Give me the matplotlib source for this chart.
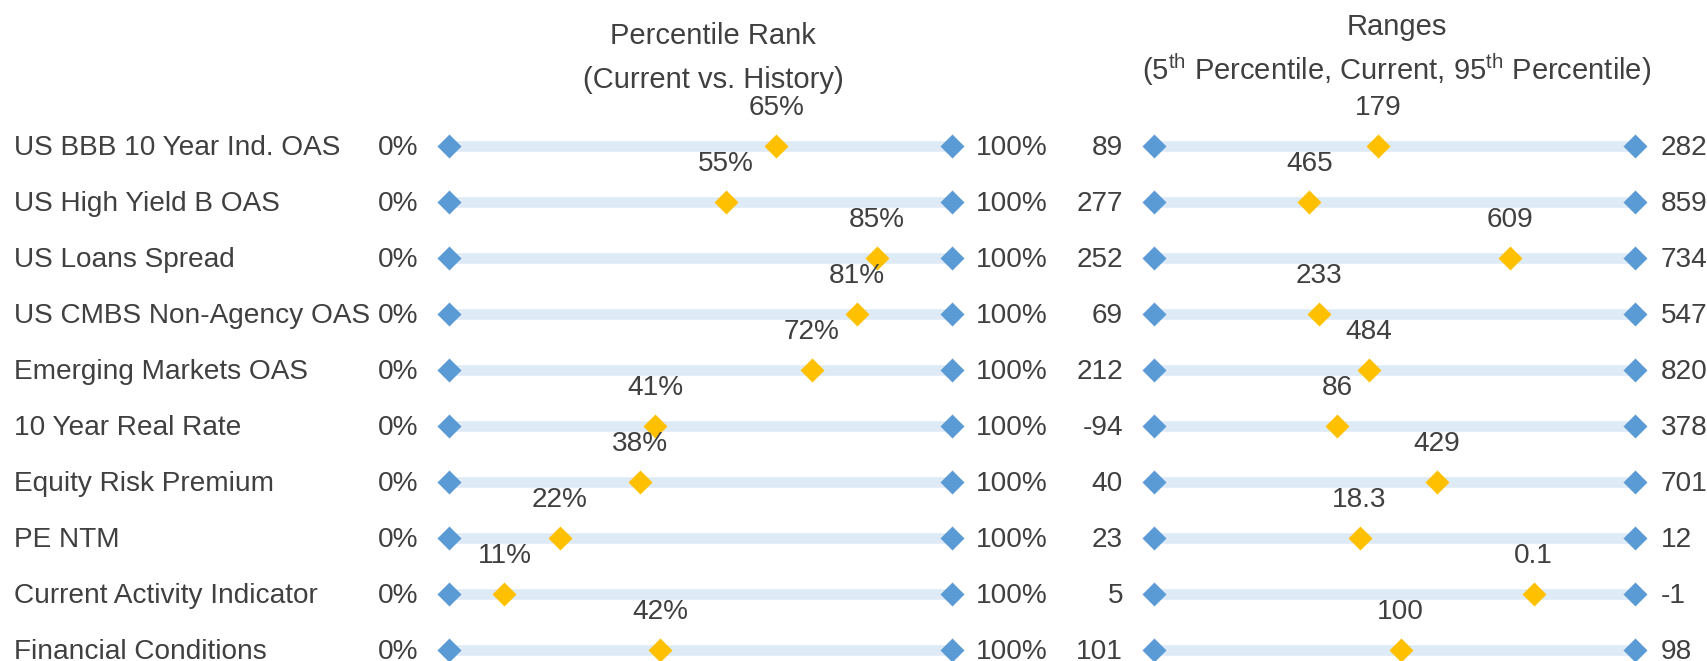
import matplotlib.pyplot as plt
from matplotlib import transforms

plt.rcParams['font.family'] = ['Liberation Sans', 'DejaVu Sans']
plt.rcParams['mathtext.fontset'] = 'custom'
plt.rcParams['mathtext.rm'] = 'Liberation Sans'
plt.rcParams['mathtext.it'] = 'Liberation Sans:italic'

categories = [
    "US BBB 10 Year Ind. OAS",
    "US High Yield B OAS",
    "US Loans Spread",
    "US CMBS Non-Agency OAS",
    "Emerging Markets OAS",
    "10 Year Real Rate",
    "Equity Risk Premium",
    "PE NTM",
    "Current Activity Indicator",
    "Financial Conditions",
]

# percentile rank of the current reading vs. history
pct_rank = [65, 55, 85, 81, 72, 41, 38, 22, 11, 42]

# 5th percentile, current, 95th percentile
range_low = [89, 277, 252, 69, 212, -94, 40, 23, 4.6, 100.7]
range_cur = [179, 465, 609, 233, 484, 86, 429, 18.3, 0.1, 99.52]
range_high = [282, 859, 734, 547, 820, 378, 701, 12, -1.1, 98.4]
cur_decimals = [0, 0, 0, 0, 0, 0, 0, 1, 1, 0]

BLUE = "#5b9bd5"
GOLD = "#ffc000"
BAND = "#deebf7"
TEXT = "#404040"
FS = 20.2
TFS = 21
MS = 12.5

fig = plt.figure(figsize=(17.07, 6.61), dpi=100)
W, H = 1707, 661
row0, step = 145.5, 56.0
ylim = ((H - row0) / step, -row0 / step)

ax1 = fig.add_axes([449 / W, 0, 503.5 / W, 1])
ax2 = fig.add_axes([1154 / W, 0, 481 / W, 1])
for ax in (ax1, ax2):
    ax.set_xlim(0, 1)
    ax.set_ylim(*ylim)
    ax.axis("off")

n = len(categories)
rows = list(range(n))


def draw_row(ax, y, x_cur):
    ax.plot([0, 1], [y, y], color=BAND, lw=7.7, solid_capstyle="butt",
            zorder=1, clip_on=False)
    ax.plot([0, 1], [y, y], ls="none", marker="D", ms=MS, color=BLUE,
            mec="none", zorder=2, clip_on=False)
    ax.plot([x_cur], [y], ls="none", marker="D", ms=MS, color=GOLD,
            mec="none", zorder=3, clip_on=False)


def side_labels(ax, y, left, right, x_cur, cur, gap_r):
    ax.annotate(left, (0, y), xytext=(-22.3, -1.5), textcoords="offset points",
                ha="right", va="center", fontsize=FS, color=TEXT)
    ax.annotate(right, (1, y), xytext=(gap_r, -1.5), textcoords="offset points",
                ha="left", va="center", fontsize=FS, color=TEXT)
    ax.annotate(cur, (x_cur, y), xytext=(0, 27), textcoords="offset points",
                ha="center", va="center", fontsize=FS, color=TEXT)


for i in rows:
    ax1.annotate(categories[i], (14 / W, i),
                 xycoords=transforms.blended_transform_factory(fig.transFigure, ax1.transData),
                 xytext=(0, -1.5), textcoords="offset points",
                 ha="left", va="center", fontsize=FS, color=TEXT)

    # left panel: 0..100 percentile
    x = pct_rank[i] / 100
    draw_row(ax1, i, x)
    side_labels(ax1, i, "0%", "100%", x, f"{pct_rank[i]}%", 17)

    # right panel: each row scaled between its own 5th and 95th percentile
    lo, cur, hi = range_low[i], range_cur[i], range_high[i]
    x = (cur - lo) / (hi - lo)
    draw_row(ax2, i, x)
    side_labels(ax2, i, f"{lo:.0f}", f"{hi:.0f}", x,
                f"{cur:.{cur_decimals[i]}f}", 18.7)

fig.text(713 / W, 1 - 36.5 / H, "Percentile Rank", ha="center", va="center",
         fontsize=TFS, color=TEXT)
fig.text(713 / W, 1 - 80.5 / H, "(Current vs. History)", ha="center",
         va="center", fontsize=TFS, color=TEXT)
fig.text(1396.5 / W, 1 - 27 / H, "Ranges", ha="center", va="center",
         fontsize=TFS, color=TEXT)
fig.text(1396.5 / W, 1 - 70 / H,
         r"(5$^{\mathrm{th}}$ Percentile, Current, 95$^{\mathrm{th}}$ Percentile)",
         ha="center", va="center", fontsize=TFS, color=TEXT)

fig.savefig("out.png", dpi=100)
